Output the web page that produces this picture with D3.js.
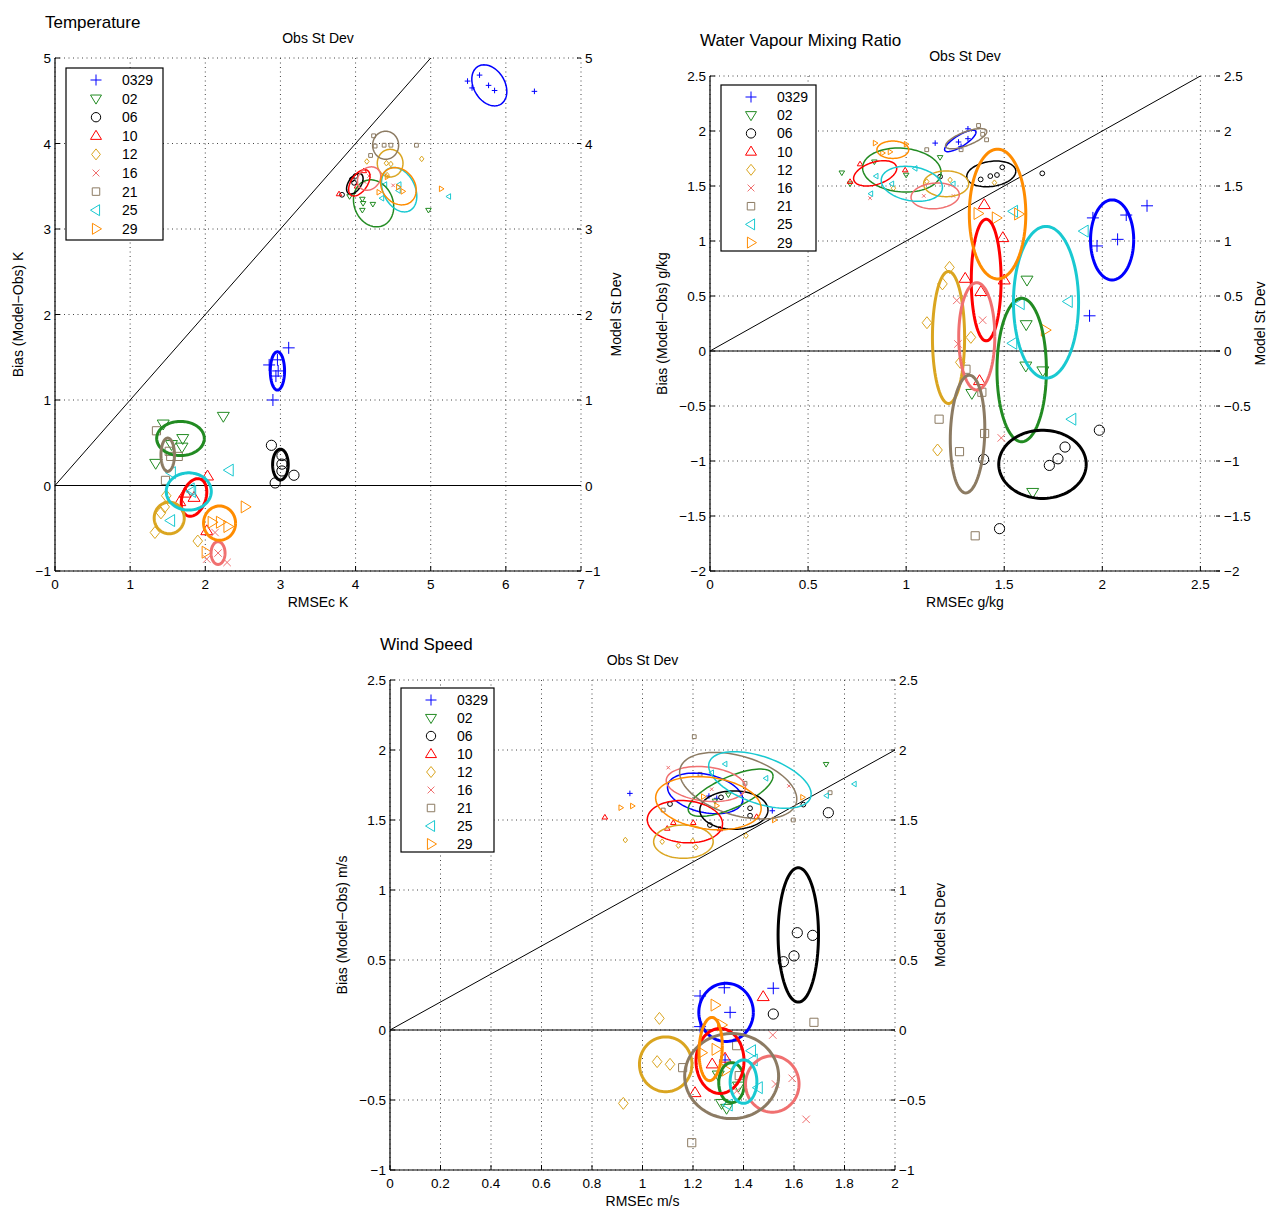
<!DOCTYPE html>
<html>
<head>
<meta charset="utf-8">
<script src="https://cdn.jsdelivr.net/npm/d3@7"></script>
<style>
  body { margin: 0; background: #fff; }
  svg { font-family: "Liberation Sans", Arial, sans-serif; }
  .grid line { stroke: #444; stroke-width: 1; stroke-dasharray: 1,3.5; }
  .tick-label { font-size: 13.5px; fill: #000; }
  .axis-label { font-size: 14px; fill: #000; }
  .title { font-size: 17px; fill: #000; }
</style>
</head>
<body>
<svg id="chart" width="1269" height="1208"></svg>
<script>
// series names, shared by all three panels
var seriesNames = ["0329", "02", "06", "10", "12", "16", "21", "25", "29"];
var seriesMarkers = ["plus", "triDown", "circle", "triUp", "diamond", "x", "square", "triLeft", "triRight"];
var seriesColors = ["#0000ff", "#228b22", "#000000", "#ff0000", "#daa520", "#f07070", "#8c7b63", "#19c9d1", "#ff8c00"];

// ---- Temperature ----
// points: one list of [rmse, bias] per series; ellipses: [cx, cy, sx, sy, rho]
var tempUpperPts = [
    [[5.49,4.73],[5.65,4.80],[5.55,4.65],[5.77,4.68],[5.85,4.62],[6.38,4.61]],
    [[3.92,3.38],[4.09,3.35],[4.10,3.30],[4.23,3.29],[4.09,3.22],[4.97,3.22]],
    [[3.82,3.40],[3.98,3.54],[4.00,3.62],[3.95,3.58]],
    [[3.78,3.41],[4.11,3.68],[4.02,3.50]],
    [[4.15,3.79],[4.41,3.77],[4.47,3.76],[4.88,3.82],[4.42,3.63]],
    [[4.50,3.51],[4.18,3.62],[4.12,3.55]],
    [[4.24,4.09],[4.26,3.97],[4.38,3.98],[4.47,3.98],[4.20,3.86],[4.81,3.98]],
    [[4.39,3.52],[4.58,3.52],[4.57,3.45],[4.35,3.36],[5.24,3.38]],
    [[4.42,3.61],[4.57,3.49],[4.63,3.44],[5.14,3.47],[4.31,3.43]]
];
var tempUpperEll = [
    [5.78,4.68,0.233,0.24,-0.3], [4.24,3.30,0.268,0.275,-0.15], [3.99,3.53,0.11,0.12,0.5],
    [4.05,3.54,0.142,0.154,0.5], [4.46,3.77,0.171,0.162,0], [4.18,3.59,0.155,0.137,0.2],
    [4.40,3.98,0.173,0.164,0], [4.58,3.46,0.235,0.26,-0.3], [4.57,3.50,0.237,0.218,-0.2]
];
var tempLowerPts = [
    [[3.11,1.61],[2.90,1.00],[2.85,1.41],[2.96,1.47],[2.97,1.34],[2.94,1.28]],
    [[1.44,0.72],[1.70,0.55],[1.69,0.45],[1.34,0.26],[2.24,0.81],[1.55,0.48]],
    [[2.88,0.47],[3.02,0.35],[3.02,0.25],[3.02,0.17],[3.18,0.12],[2.93,0.03]],
    [[2.03,0.11],[1.85,-0.14],[1.73,-0.09],[1.66,-0.19],[2.02,-0.53]],
    [[1.33,-0.55],[1.46,-0.25],[1.41,-0.32],[1.90,-0.65],[1.48,-0.12]],
    [[2.17,-0.79],[2.29,-0.90],[2.02,-0.86],[2.13,-0.55]],
    [[1.35,0.64],[1.52,0.40],[1.54,0.34],[1.64,0.34],[1.47,0.06]],
    [[2.32,0.18],[1.55,0.15],[1.80,-0.04],[1.82,-0.07],[1.54,-0.41]],
    [[2.53,-0.25],[2.09,-0.43],[2.20,-0.43],[2.30,-0.48],[2.01,-0.78]]
];
var tempLowerEll = [
    [2.96,1.34,0.095,0.224,0], [1.67,0.55,0.317,0.2,0], [3.00,0.245,0.104,0.18,0],
    [1.85,-0.14,0.17,0.22,0.3], [1.52,-0.38,0.2,0.185,0], [2.17,-0.79,0.093,0.133,0],
    [1.50,0.36,0.09,0.195,0], [1.78,-0.07,0.30,0.218,0], [2.19,-0.44,0.213,0.2,0]
];
var tempXTicks = [0, 1, 2, 3, 4, 5, 6, 7];
var tempYTicks = [-1, 0, 1, 2, 3, 4, 5];

// ---- Water vapour ----
var vapUpperPts = [
    [[1.148,1.89],[1.267,1.90],[1.315,2.02],[1.315,1.93],[1.28,1.86]],
    [[0.672,1.62],[0.838,1.72],[1.173,1.76],[0.714,1.52],[1.0,1.60]],
    [[1.173,1.585],[1.429,1.59],[1.463,1.60],[1.49,1.67],[1.694,1.615],[1.38,1.56]],
    [[0.995,1.645],[0.765,1.70],[0.714,1.54]],
    [[0.935,1.48],[1.224,1.555],[1.105,1.54],[1.45,1.53]],
    [[0.816,1.39],[1.09,1.41],[1.241,1.41]],
    [[1.105,1.83],[1.369,2.05],[1.41,1.92],[1.39,1.97],[1.28,1.83]],
    [[1.046,1.66],[0.847,1.59],[0.927,1.52],[0.82,1.43],[1.24,1.52]],
    [[0.842,1.89],[0.918,1.81],[1.00,1.88],[0.88,1.80]]
];
var vapUpperEll = [
    [1.276,1.91,0.08,0.098,0.8], [0.978,1.645,0.2,0.2,-0.1], [1.434,1.61,0.125,0.117,0.2],
    [0.842,1.615,0.11,0.115,0.4], [1.204,1.52,0.115,0.117,0], [1.148,1.41,0.123,0.117,0.1],
    [1.306,1.93,0.105,0.092,0.7], [1.029,1.52,0.156,0.159,-0.2], [0.932,1.83,0.081,0.079,0]
];
var vapLowerPts = [
    [[1.952,1.21],[2.122,1.236],[2.228,1.32],[2.078,1.015],[1.973,0.955],[1.935,0.32]],
    [[1.616,0.645],[1.612,0.24],[1.61,-0.136],[1.697,-0.18],[1.335,-0.385],[1.645,-1.285]],
    [[1.985,-0.72],[1.81,-0.873],[1.774,-0.98],[1.73,-1.04],[1.395,-0.985],[1.476,-1.615]],
    [[1.398,1.33],[1.493,1.03],[1.301,0.66],[1.381,0.54],[1.50,0.645],[1.374,-0.27]],
    [[1.221,0.76],[1.185,0.61],[1.106,0.257],[1.33,0.124],[1.276,-0.103],[1.16,-0.9]],
    [[1.258,0.46],[1.39,0.28],[1.264,0.064],[1.485,-0.79]],
    [[1.168,-0.62],[1.40,-0.75],[1.272,-0.915],[1.386,-0.375],[1.305,-0.166],[1.352,-1.68]],
    [[1.548,1.27],[1.908,1.09],[1.827,0.45],[1.582,0.43],[1.544,0.07],[1.845,-0.62]],
    [[1.366,1.25],[1.459,1.21],[1.573,1.245],[1.709,0.19]]
];
var vapLowerEll = [
    [2.05,1.01,0.11,0.364,0], [1.589,-0.173,0.126,0.652,0], [1.695,-1.03,0.223,0.31,0],
    [1.408,0.645,0.076,0.553,0], [1.216,0.123,0.082,0.6,0], [1.36,0.133,0.092,0.488,0],
    [1.313,-0.755,0.088,0.535,0.1], [1.713,0.443,0.166,0.69,0], [1.466,1.245,0.144,0.59,0]
];
var vapXTicks = [0, 0.5, 1, 1.5, 2, 2.5];
var vapYTicks = [-2, -1.5, -1, -0.5, 0, 0.5, 1, 1.5, 2, 2.5];

// ---- Wind speed ----
var windUpperPts = [
    [[0.95,1.69],[1.263,1.671],[1.294,1.655],[1.514,1.566]],
    [[1.727,1.898],[1.287,1.636],[1.34,1.68]],
    [[1.311,1.662],[1.426,1.584],[1.426,1.531],[1.267,1.464],[1.109,1.614],[1.637,1.61]],
    [[0.851,1.52],[1.122,1.481],[1.201,1.481],[1.098,1.44],[1.307,1.436],[1.452,1.524]],
    [[0.932,1.357],[1.078,1.345],[1.142,1.317],[1.199,1.35],[1.211,1.305],[1.41,1.388]],
    [[1.102,1.874],[1.274,1.72],[1.58,1.743]],
    [[1.205,2.095],[1.228,1.826],[1.406,1.762],[1.743,1.695],[1.597,1.50],[1.082,1.571]],
    [[1.327,1.90],[1.489,1.798],[1.274,1.838],[1.839,1.757],[1.729,1.674]],
    [[0.914,1.588],[0.96,1.60],[1.241,1.667],[1.294,1.602],[1.634,1.662],[1.522,1.50]]
];
var windUpperEll = [
    [1.248,1.69,0.149,0.145,-0.3], [1.349,1.695,0.168,0.169,0.7], [1.362,1.571,0.135,0.137,0],
    [1.168,1.488,0.149,0.151,-0.1], [1.162,1.345,0.118,0.119,0], [1.251,1.757,0.157,0.125,-0.2],
    [1.379,1.745,0.232,0.238,-0.4], [1.465,1.786,0.203,0.202,-0.5], [1.261,1.62,0.209,0.19,-0.2]
];
var windLowerPts = [
    [[1.324,0.302],[1.228,0.243],[1.347,0.126],[1.518,0.298],[1.327,-0.214],[1.228,0.024]],
    [[1.313,-0.524],[1.333,-0.559],[1.30,-0.321],[1.38,-0.40]],
    [[1.613,0.695],[1.674,0.676],[1.60,0.529],[1.558,0.488],[1.518,0.114],[1.736,1.552]],
    [[1.478,0.238],[1.276,-0.243],[1.208,-0.448],[1.327,-0.202]],
    [[1.067,0.083],[1.058,-0.226],[1.109,-0.245],[0.924,-0.524]],
    [[1.516,-0.036],[1.593,-0.345],[1.527,-0.386],[1.648,-0.638],[1.373,-0.436]],
    [[1.679,0.055],[1.373,-0.112],[1.159,-0.269],[1.383,-0.326],[1.195,-0.805]],
    [[1.432,-0.148],[1.439,-0.214],[1.459,-0.412],[1.34,-0.536]],
    [[1.287,0.178],[1.291,-0.138],[1.234,-0.162],[1.313,0.036],[1.331,-0.286]]
];
var windLowerEll = [
    [1.331,0.126,0.108,0.208,0], [1.353,-0.376,0.051,0.143,0], [1.617,0.679,0.08,0.48,0],
    [1.307,-0.221,0.095,0.232,0], [1.092,-0.245,0.104,0.196,0], [1.514,-0.386,0.106,0.201,0],
    [1.353,-0.329,0.186,0.304,0], [1.40,-0.369,0.053,0.155,0], [1.27,-0.136,0.046,0.226,0.1]
];
var windXTicks = [0, 0.2, 0.4, 0.6, 0.8, 1, 1.2, 1.4, 1.6, 1.8, 2];
var windYTicks = [-1, -0.5, 0, 0.5, 1, 1.5, 2, 2.5];

var svg = d3.select("#chart");

function markerPath(type, s) {
    var a = s * 0.62;
    switch (type) {
        case "plus": return "M" + (-s) + ",0H" + s + "M0," + (-s) + "V" + s;
        case "x": return "M" + (-a) + "," + (-a) + "L" + a + "," + a + "M" + (-a) + "," + a + "L" + a + "," + (-a);
        case "circle": var r = s * 0.85;
            return "M" + r + ",0A" + r + "," + r + " 0 1,1 " + (-r) + ",0A" + r + "," + r + " 0 1,1 " + r + ",0Z";
        case "square": var q = s * 0.68; return "M" + (-q) + "," + (-q) + "H" + q + "V" + q + "H" + (-q) + "Z";
        case "diamond": return "M0," + (-s) + "L" + (s * 0.8) + ",0L0," + s + "L" + (-s * 0.8) + ",0Z";
        case "triUp": return "M" + (-s) + "," + (s * 0.65) + "H" + s + "L0," + (-s) + "Z";
        case "triDown": return "M" + (-s) + "," + (-s * 0.65) + "H" + s + "L0," + s + "Z";
        case "triLeft": return "M" + (s * 0.65) + "," + (-s) + "V" + s + "L" + (-s) + ",0Z";
        case "triRight": return "M" + (-s * 0.65) + "," + (-s) + "V" + s + "L" + s + ",0Z";
    }
}

function fmt(v) {
    return String(v).replace("-", "\u2212");
}

function drawPanel(p) {
    var x = d3.scaleLinear().domain(p.xDomain).range([p.left, p.right]);
    var y = d3.scaleLinear().domain(p.yDomain).range([p.bottom, p.top]);
    var g = svg.append("g");

    // grid
    var grid = g.append("g").attr("class", "grid");
    grid.selectAll(".gx").data(p.xTicks).enter().append("line")
        .attr("x1", function (d) { return x(d); }).attr("x2", function (d) { return x(d); })
        .attr("y1", p.top).attr("y2", p.bottom);
    grid.selectAll(".gy").data(p.yTicks).enter().append("line")
        .attr("x1", p.left).attr("x2", p.right)
        .attr("y1", function (d) { return y(d); }).attr("y2", function (d) { return y(d); });

    // frame: solid left and bottom
    g.append("line").attr("x1", p.left).attr("x2", p.right).attr("y1", p.bottom).attr("y2", p.bottom)
        .attr("stroke", "#000").attr("stroke-width", 1.2);
    g.append("line").attr("x1", p.left).attr("x2", p.left).attr("y1", p.top).attr("y2", p.bottom)
        .attr("stroke", "#000").attr("stroke-width", 1.2);

    // inward tick marks
    g.selectAll(".tx").data(p.xTicks).enter().append("line")
        .attr("x1", function (d) { return x(d); }).attr("x2", function (d) { return x(d); })
        .attr("y1", p.bottom).attr("y2", p.bottom - 5).attr("stroke", "#000");
    g.selectAll(".ty").data(p.yTicks).enter().append("line")
        .attr("x1", p.left).attr("x2", p.left + 5)
        .attr("y1", function (d) { return y(d); }).attr("y2", function (d) { return y(d); }).attr("stroke", "#000");
    g.selectAll(".tyr").data(p.yTicks).enter().append("line")
        .attr("x1", p.right).attr("x2", p.right - 4)
        .attr("y1", function (d) { return y(d); }).attr("y2", function (d) { return y(d); }).attr("stroke", "#000");

    // tick labels
    g.selectAll(".lx").data(p.xTicks).enter().append("text").attr("class", "tick-label")
        .attr("x", function (d) { return x(d); }).attr("y", p.bottom + 18)
        .attr("text-anchor", "middle").text(fmt);
    g.selectAll(".ly").data(p.yTicks).enter().append("text").attr("class", "tick-label")
        .attr("x", p.left - 4).attr("y", function (d) { return y(d) + 5; })
        .attr("text-anchor", "end").text(fmt);
    g.selectAll(".lyr").data(p.yTicks).enter().append("text").attr("class", "tick-label")
        .attr("x", p.right + 4).attr("y", function (d) { return y(d) + 5; })
        .attr("text-anchor", "start").text(fmt);

    // reference lines: zero bias and y = x
    g.append("line").attr("x1", x(p.xDomain[0])).attr("x2", x(p.xDomain[1]))
        .attr("y1", y(0)).attr("y2", y(0)).attr("stroke", "#000").attr("stroke-width", 1);
    var dEnd = Math.min(p.xDomain[1], p.yDomain[1]);
    g.append("line").attr("x1", x(0)).attr("y1", y(0)).attr("x2", x(dEnd)).attr("y2", y(dEnd))
        .attr("stroke", "#000").attr("stroke-width", 1);

    // ellipses
    var line = d3.line();
    function ellipsePts(e) {
        var phi = Math.acos(e[4]);
        return d3.range(0, 91).map(function (i) {
            var t = i / 90 * 2 * Math.PI;
            return [x(e[0] + e[2] * Math.cos(t)), y(e[1] + e[3] * Math.cos(t - phi))];
        });
    }
    function drawEllipses(list, width) {
        g.append("g").selectAll("path").data(list).enter().append("path")
            .attr("d", function (d) { return line(ellipsePts(d)); })
            .attr("fill", "none")
            .attr("stroke", function (d, i) { return seriesColors[i]; })
            .attr("stroke-width", width);
    }
    function drawPoints(list, size) {
        list.forEach(function (pts, i) {
            g.append("g").selectAll("path").data(pts).enter().append("path")
                .attr("transform", function (d) { return "translate(" + x(d[0]) + "," + y(d[1]) + ")"; })
                .attr("d", markerPath(seriesMarkers[i], size))
                .attr("fill", "none")
                .attr("stroke", seriesColors[i])
                .attr("stroke-width", 1);
        });
    }
    drawPoints(p.upperPts, 2.8);
    drawPoints(p.lowerPts, 6);
    drawEllipses(p.upperEll, 1.5);
    drawEllipses(p.lowerEll, 3);

    // legend
    var lg = g.append("g");
    lg.append("rect").attr("x", p.legend[0]).attr("y", p.legend[1])
        .attr("width", p.legend[2]).attr("height", p.legend[3])
        .attr("fill", "#fff").attr("stroke", "#000").attr("stroke-width", 1.2);
    seriesNames.forEach(function (name, i) {
        var ry = p.legend[1] + 12 + i * p.legendStep;
        lg.append("path").attr("transform", "translate(" + (p.legend[0] + 30) + "," + ry + ")")
            .attr("d", markerPath(seriesMarkers[i], 5.5))
            .attr("fill", "none").attr("stroke", seriesColors[i]).attr("stroke-width", 1);
        lg.append("text").attr("class", "axis-label").attr("x", p.legend[0] + 56).attr("y", ry + 5).text(name);
    });

    // titles and axis labels
    var midX = (p.left + p.right) / 2, midY = (p.top + p.bottom) / 2;
    g.append("text").attr("class", "title").attr("x", p.titleX).attr("y", p.titleY).text(p.title);
    g.append("text").attr("class", "axis-label").attr("x", midX).attr("y", p.top - 15)
        .attr("text-anchor", "middle").text("Obs St Dev");
    g.append("text").attr("class", "axis-label").attr("x", midX).attr("y", p.bottom + 36)
        .attr("text-anchor", "middle").text("RMSEc " + p.unit);
    g.append("text").attr("class", "axis-label")
        .attr("transform", "translate(" + p.biasX + "," + midY + ") rotate(-90)")
        .attr("text-anchor", "middle").text("Bias (Model\u2212Obs) " + p.unit);
    g.append("text").attr("class", "axis-label")
        .attr("transform", "translate(" + p.modelX + "," + midY + ") rotate(-90)")
        .attr("text-anchor", "middle").text("Model St Dev");
}

drawPanel({
    title: "Temperature", titleX: 45, titleY: 28, unit: "K",
    left: 55, right: 581, top: 58, bottom: 571,
    xDomain: [0, 7], yDomain: [-1, 5], xTicks: tempXTicks, yTicks: tempYTicks,
    upperPts: tempUpperPts, upperEll: tempUpperEll, lowerPts: tempLowerPts, lowerEll: tempLowerEll,
    legend: [66, 68, 97, 172], legendStep: 18.6, biasX: 23, modelX: 621
});
drawPanel({
    title: "Water Vapour Mixing Ratio", titleX: 700, titleY: 46, unit: "g/kg",
    left: 710, right: 1220, top: 76, bottom: 571,
    xDomain: [0, 2.6], yDomain: [-2, 2.5], xTicks: vapXTicks, yTicks: vapYTicks,
    upperPts: vapUpperPts, upperEll: vapUpperEll, lowerPts: vapLowerPts, lowerEll: vapLowerEll,
    legend: [721, 85, 95, 166], legendStep: 18.2, biasX: 667, modelX: 1265
});
drawPanel({
    title: "Wind Speed", titleX: 380, titleY: 650, unit: "m/s",
    left: 390, right: 895, top: 680, bottom: 1170,
    xDomain: [0, 2], yDomain: [-1, 2.5], xTicks: windXTicks, yTicks: windYTicks,
    upperPts: windUpperPts, upperEll: windUpperEll, lowerPts: windLowerPts, lowerEll: windLowerEll,
    legend: [401, 688, 93, 164], legendStep: 18, biasX: 347, modelX: 945
});
</script>
</body>
</html>
